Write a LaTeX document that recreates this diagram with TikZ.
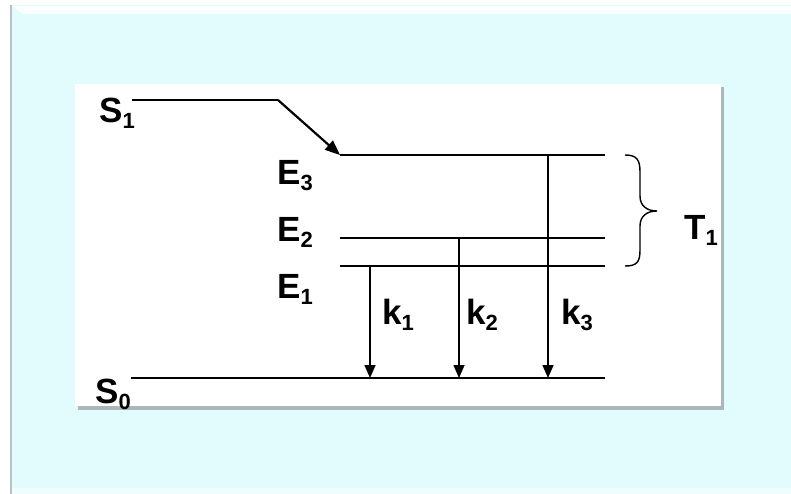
\documentclass[tikz,border=0pt]{standalone}
\usepackage{fontspec}
\setmainfont{Liberation Sans}
\usetikzlibrary{arrows.meta}
\definecolor{bgc}{RGB}{226,251,252}
\definecolor{framec}{RGB}{185,195,198}
\definecolor{shadowc}{RGB}{150,155,158}
\newcommand\lblsub[2]{#1\raisebox{-6pt}{\fontsize{22}{22}\selectfont #2}}
\begin{document}
\begin{tikzpicture}[x=1pt,y=-1pt,
  lbl/.style={anchor=base west,inner sep=0pt,font=\fontsize{35}{35}\selectfont\bfseries},
  level/.style={line width=2.5pt},
  trans/.style={line width=1.6pt,-{Triangle[length=13pt,width=11pt]}}]
\useasboundingbox (0,0) rectangle (791,494);
% background
\fill[white] (0,0) rectangle (791,494);
\fill[bgc] (10,5) rectangle (791,494);
\fill[white,opacity=0.8] (12,6) -- (791,6) -- (791,14) -- (22,14) -- cycle;
\fill[white,opacity=0.5] (10,488) rectangle (791,494);
\draw[framec,line width=2pt] (11,5) -- (11,494);
% white panel
\fill[shadowc,opacity=0.7] (78,87) rectangle (724,410);
\fill[white] (75,84) rectangle (721,406);
% level coordinates
\coordinate (s1a) at (132,100);
\coordinate (s1b) at (278,100);
\coordinate (e3a) at (340,155);
\coordinate (e3b) at (605,155);
\coordinate (e2a) at (340,238);
\coordinate (e2b) at (605,238);
\coordinate (e1a) at (340,266);
\coordinate (e1b) at (605,266);
\coordinate (s0a) at (131,378);
\coordinate (s0b) at (605,378);
\coordinate (k1t) at (370,266);
\coordinate (k1b) at (370,378);
\coordinate (k2t) at (459,238);
\coordinate (k2b) at (459,378);
\coordinate (k3t) at (548,155);
\coordinate (k3b) at (548,378);
% levels
\draw[level] (s1a) -- (s1b);
\draw[line width=2.2pt,-{Triangle[length=15pt,width=12pt]}] (s1b) -- (e3a);
\draw[level] (e3a) -- (e3b);
\draw[level] (e2a) -- (e2b);
\draw[level] (e1a) -- (e1b);
\draw[level] (s0a) -- (s0b);
% transitions
\draw[trans] (k1t) -- (k1b);
\draw[trans] (k2t) -- (k2b);
\draw[trans] (k3t) -- (k3b);
% brace
\draw[line width=1.4pt] (625,155) .. controls (637,155) and (640,160) .. (640,172) -- (640,196)
  .. controls (640,206) and (647,211) .. (657,211)
  .. controls (647,211) and (640,216) .. (640,226) -- (640,250)
  .. controls (640,262) and (637,266) .. (625,266);
% labels
\node[lbl] (S1) at (99,123) {\lblsub{S}{1}};
\node[lbl] (E3) at (277,185) {\lblsub{E}{3}};
\node[lbl] (E2) at (277,241) {\lblsub{E}{2}};
\node[lbl] (E1) at (277,298) {\lblsub{E}{1}};
\node[lbl] (S0) at (95,403) {\lblsub{S}{0}};
\node[lbl] (k1) at (382,324) {\lblsub{k}{1}};
\node[lbl] (k2) at (466,324) {\lblsub{k}{2}};
\node[lbl] (k3) at (561,324) {\lblsub{k}{3}};
\node[lbl] (T1) at (684,239) {\lblsub{T}{1}};
\end{tikzpicture}
\end{document}
